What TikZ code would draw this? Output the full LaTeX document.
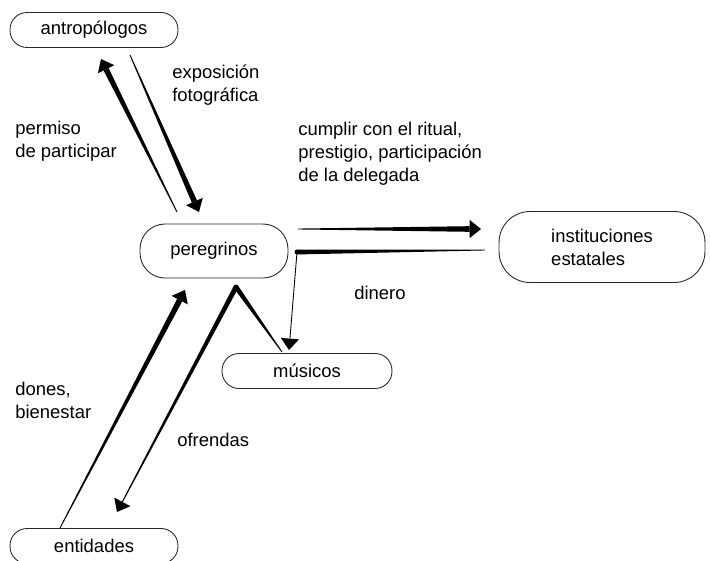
\documentclass[tikz,border=0pt]{standalone}
\usepackage{fontspec}
\setmainfont{Liberation Sans}
\usepackage{tikz}
\usetikzlibrary{calc}

\tikzset{
	entity/.style={draw=black!85, line width=.5pt, rounded corners=.34cm,
		minimum width=3.36cm, minimum height=.7cm, inner sep=0pt,
		font=\fontsize{10.5}{13}\selectfont},
	txt/.style={align=left, inner sep=0pt, font=\fontsize{10.5}{13}\selectfont}
}

% tapered stroke: from #1 (half width #3) to #2 (half width #4)
\newcommand{\taperline}[4]{%
	\fill ($(#1)!#3!90:(#2)$) -- ($(#2)!#4!-90:(#1)$) -- ($(#2)!#4!90:(#1)$) -- ($(#1)!#3!-90:(#2)$) -- cycle;}
% arrow head with tip at #2, coming from #1
\newcommand{\arrowhd}[2]{%
	\coordinate (hb) at ($(#2)!6.5pt!(#1)$);
	\fill (#2) -- ($(hb)!5.2pt!90:(#2)$) -- ($(hb)!5.2pt!-90:(#2)$) -- cycle;}
% thin at #1, thick before the head at #2
\newcommand{\taperarrow}[2]{%
	\coordinate (hb) at ($(#2)!6.5pt!(#1)$);
	\taperline{#1}{hb}{.25pt}{1.6pt}
	\arrowhd{#1}{#2}}

\begin{document}
\begin{tikzpicture}[x=.02cm, y=-.02cm]
	\useasboundingbox (0,0) rectangle (710,561);

	\node[entity] (antrop) at (94,30) {antropólogos};	% actors
	\node[entity, minimum width=2.96cm, minimum height=1.08cm, rounded corners=.5cm] (peregr) at (214,251) {peregrinos};
	\node[entity, minimum width=4.12cm, minimum height=1.42cm, rounded corners=.62cm, align=left] (instit) at (602,247) {instituciones\\estatales};
	\node[entity, minimum width=3.4cm] (musicos) at (307,371) {músicos};
	\node[entity] (entid) at (94,546) {entidades};

	\node[txt, anchor=west] (lexpo) at (172,85) {exposición\\fotográfica};	% labels
	\node[txt, anchor=west] (lperm) at (15,141) {permiso\\de participar};
	\node[txt, anchor=west] (lcump) at (298,154) {cumplir con el ritual,\\prestigio, participación\\de la delegada};
	\node[txt] (ldine) at (380,293) {dinero};
	\node[txt, anchor=west] (ldone) at (15,400) {dones,\\bienestar};
	\node[txt, anchor=west] (lofre) at (177,440) {ofrendas};

	\coordinate (pa1) at (177,212);	% ends of the connectors
	\coordinate (pa2) at (101,59);
	\coordinate (ap1) at (130,55);
	\coordinate (ap2) at (199,212);
	\coordinate (pi1) at (298,229);
	\coordinate (pi2) at (481,229);
	\coordinate (ip1) at (485,250);
	\coordinate (ip2) at (297,252);
	\coordinate (ip3) at (289,350);
	\coordinate (mo1) at (282,352);
	\coordinate (mo2) at (236,287);
	\coordinate (mo3) at (117,512);
	\coordinate (ep1) at (60,528);
	\coordinate (ep2) at (185,290);

	\taperarrow{pa1}{pa2}	% permiso
	\taperarrow{ap1}{ap2}	% exposicion
	\taperarrow{pi1}{pi2}	% cumplir

	\taperline{ip1}{ip2}{.25pt}{1.4pt}	% dinero
	\fill (ip2) circle [radius=1.4pt];
	\coordinate (hb) at ($(ip3)!6.5pt!(ip2)$);
	\draw[line width=.5pt] (ip2) -- (hb);
	\arrowhd{ip2}{ip3}

	\taperline{mo1}{mo2}{.25pt}{1.4pt}	% ofrendas
	\fill (mo2) circle [radius=1.4pt];
	\coordinate (hb) at ($(mo3)!6.5pt!(mo2)$);
	\taperline{mo2}{hb}{1.4pt}{.3pt}
	\arrowhd{mo2}{mo3}

	\taperarrow{ep1}{ep2}	% dones
\end{tikzpicture}
\end{document}
